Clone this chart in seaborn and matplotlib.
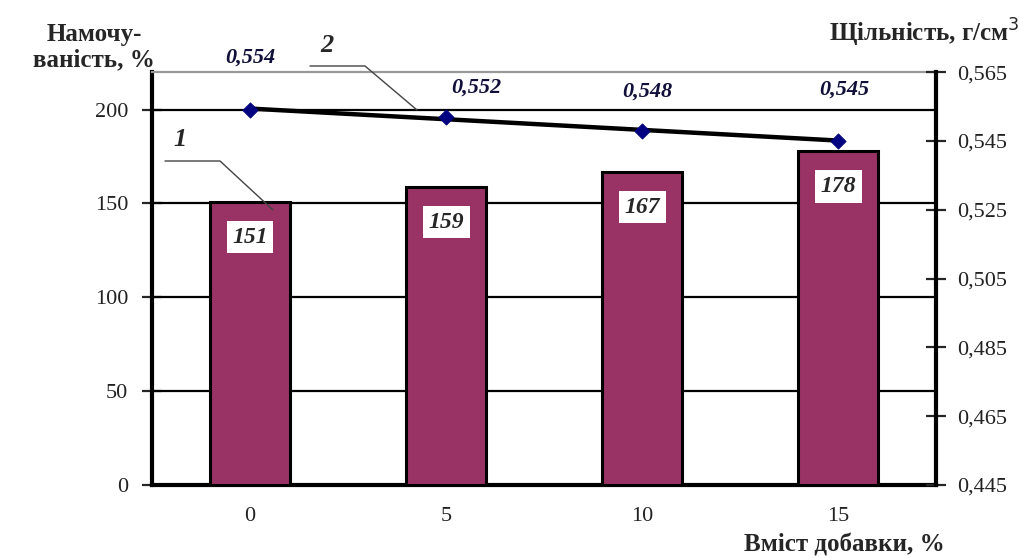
import numpy as np
import pandas as pd
import matplotlib
matplotlib.use("Agg")
import matplotlib.pyplot as plt
import seaborn as sns

# data
categories = ["0", "5", "10", "15"]
wetting = [151, 159, 167, 178]            # Намочуваність, %
density = [0.554, 0.552, 0.548, 0.545]    # Щільність, г/см3
density_labels = ["0,554", "0,552", "0,548", "0,545"]
left_ticks = [0, 50, 100, 150, 200]
right_ticks = [0.445, 0.465, 0.485, 0.505, 0.525, 0.545, 0.565]

# label offsets (points) for line values, as placed in the picture
dens_offsets = [(0, 38), (22, 21), (4, 28), (4, 37)]

sns.set_style("white")
plt.rcParams["font.family"] = ["Liberation Serif", "DejaVu Serif"]

bar_color = "#993366"
navy = "#000080"

fig = plt.figure(figsize=(10.24, 5.58), dpi=100)
ax = fig.add_axes([0.1484, 0.1308, 0.766, 0.740])

df = pd.DataFrame({"cat": categories, "wet": wetting})
sns.barplot(data=df, x="cat", y="wet", color=bar_color, width=0.41,
            edgecolor="black", linewidth=2.2, saturation=1, ax=ax, zorder=3)

ax.set_xlim(-0.5, len(categories) - 0.5)
ax.set_ylim(0, 220)
ax.set_yticks(left_ticks)
ax.set_yticklabels([str(t) for t in left_ticks])
for t in left_ticks[1:]:
    ax.axhline(t, color="black", lw=1.6, zorder=1)

ax.set_xlabel("")
ax.set_ylabel("")
ax.set_xticks(range(len(categories)))
ax.set_xticklabels(categories)
ax.set_xticks(np.arange(len(categories) + 1) - 0.5, minor=True)
ax.tick_params(axis="x", which="major", length=0, pad=16, labelsize=16)
ax.tick_params(axis="x", which="minor", direction="inout", length=14, width=2)
ax.tick_params(axis="y", direction="inout", length=14, width=1.6, labelsize=16,
               pad=10, left=True, labelcolor="#222222")
ax.tick_params(axis="x", labelcolor="#222222")

for sp in ["left", "bottom"]:
    ax.spines[sp].set_color("black")
    ax.spines[sp].set_linewidth(3)
ax.spines["top"].set_color("#999999")
ax.spines["top"].set_linewidth(1.6)
ax.spines["right"].set_visible(False)

# value boxes inside bars
for i, v in enumerate(wetting):
    ax.text(i, v - 19, str(v), ha="center", va="center", fontsize=17,
            fontweight="bold", fontstyle="italic", zorder=5,
            bbox=dict(facecolor="white", edgecolor="none", pad=4))

# density on twin axis
ax2 = ax.twinx()
xs = np.arange(len(categories))
sns.regplot(x=xs, y=density, scatter=False, ci=None, truncate=True,
            line_kws=dict(color="black", lw=3.2), ax=ax2)
sns.scatterplot(x=xs, y=density, marker="D", s=60, color=navy,
                edgecolor=navy, ax=ax2, zorder=6)
ax2.set_xlim(-0.5, len(categories) - 0.5)
ax2.set_ylim(0.445, 0.565)
ax2.set_yticks(right_ticks)
ax2.set_yticklabels([f"{t:.3f}".replace(".", ",") for t in right_ticks])
ax2.tick_params(axis="y", direction="inout", length=14, width=1.6,
                labelsize=16, pad=8, right=True, labelcolor="#222222")
for sp in ["left", "top", "bottom"]:
    ax2.spines[sp].set_visible(False)
ax2.spines["right"].set_color("black")
ax2.spines["right"].set_linewidth(3)

for i, (d, lab) in enumerate(zip(density, density_labels)):
    ax2.annotate(lab, (i, d), xytext=dens_offsets[i], textcoords="offset points",
                 ha="center", va="center", fontsize=16, fontweight="bold",
                 fontstyle="italic", color="#10103a", annotation_clip=False)

# series markers with leader lines
fig.text(180 / 1024, 1 - 140 / 558, "1", fontsize=19, fontweight="bold",
         fontstyle="italic", ha="center", va="center")
fig.add_artist(plt.Line2D([165 / 1024, 220 / 1024, 273 / 1024],
                          [1 - 161 / 558, 1 - 161 / 558, 1 - 210 / 558],
                          color="#444444", lw=1))
fig.text(327 / 1024, 1 - 45 / 558, "2", fontsize=19, fontweight="bold",
         fontstyle="italic", ha="center", va="center")
fig.add_artist(plt.Line2D([310 / 1024, 365 / 1024, 417 / 1024],
                          [1 - 66 / 558, 1 - 66 / 558, 1 - 110 / 558],
                          color="#444444", lw=1))

# axis titles
fig.text(94 / 1024, 1 - 47 / 558, "Намочу-\nваність, %", ha="center",
         va="center", fontsize=18, fontweight="bold", linespacing=1.15)
fig.text(1020 / 1024, 1 - 33 / 558, "Щільність, г/см$^3$", ha="right",
         va="center", fontsize=18, fontweight="bold")
fig.text(945 / 1024, 1 - 545 / 558, "Вміст добавки, %", ha="right",
         va="center", fontsize=18, fontweight="bold")

fig.savefig("out.png", dpi=100)
